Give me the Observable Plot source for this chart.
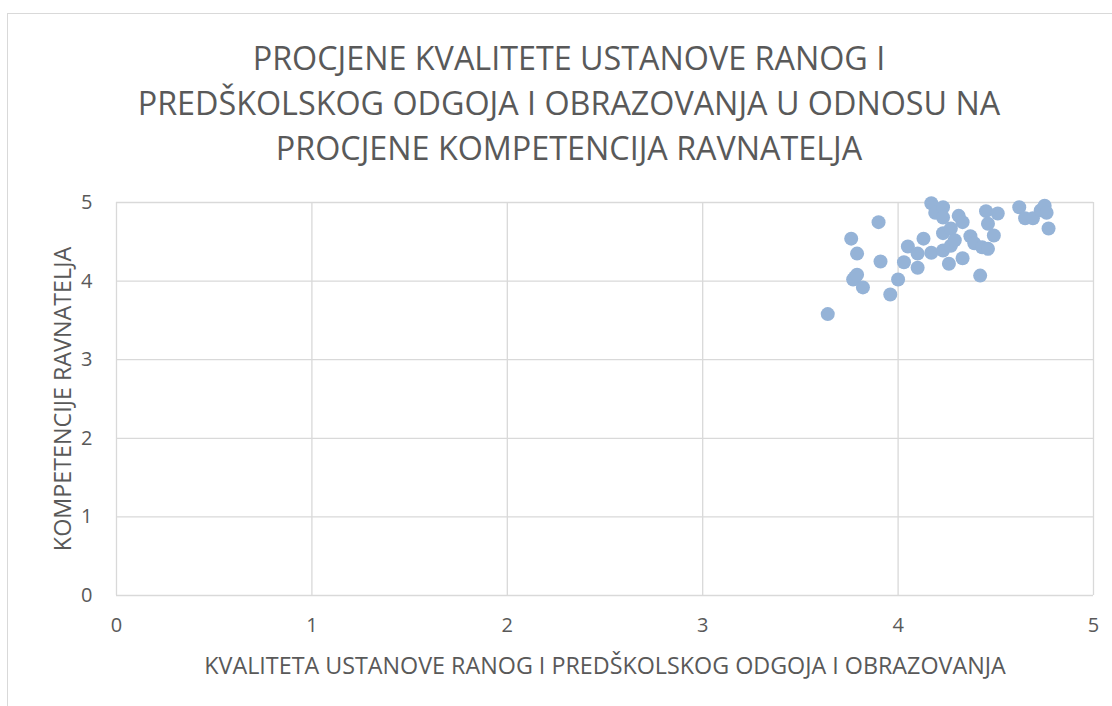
<!DOCTYPE html>
<html>
<head>
<meta charset="utf-8">
<script src="https://cdn.jsdelivr.net/npm/d3@7"></script>
<script src="https://cdn.jsdelivr.net/npm/@observablehq/plot@0.6"></script>
<style>
  html, body { margin: 0; padding: 0; background: #fff; }
  #wrap { position: relative; width: 1112px; height: 706px; overflow: hidden; font-family: "Open Sans", sans-serif; }
  #frame { position: absolute; left: 7px; top: 13px; width: 1110px; height: 720px; border: 1px solid #d9d9d9; box-sizing: border-box; }
  #title { position: absolute; left: 0; width: 1138px; top: 35px; text-align: center; color: #595959; font-size: 32.3px; line-height: 45px; font-weight: 400; }
  #chart { position: absolute; left: 0; top: 0; }
</style>
</head>
<body>
<div id="wrap">
  <div id="frame"></div>
  <div id="title">PROCJENE KVALITETE USTANOVE RANOG I<br>PREDŠKOLSKOG ODGOJA I OBRAZOVANJA U ODNOSU NA<br>PROCJENE KOMPETENCIJA RAVNATELJA</div>
  <div id="chart"></div>
</div>
<script>
// Estimated values
const kvaliteta = [3.64, 3.76, 3.79, 3.78, 3.77, 3.79, 3.82, 3.90, 3.91, 3.96,
  4.00, 4.03, 4.05, 4.10, 4.10, 4.13, 4.17, 4.17, 4.19, 4.23,
  4.23, 4.23, 4.23, 4.27, 4.27, 4.26, 4.29, 4.31, 4.33, 4.33,
  4.37, 4.39, 4.42, 4.43, 4.46, 4.45, 4.46, 4.49, 4.51, 4.62,
  4.65, 4.69, 4.73, 4.75, 4.76, 4.77];
const kompetencije = [3.58, 4.54, 4.35, 4.05, 4.02, 4.08, 3.92, 4.75, 4.25, 3.83,
  4.02, 4.24, 4.44, 4.17, 4.35, 4.54, 4.36, 4.99, 4.87, 4.94,
  4.81, 4.61, 4.39, 4.67, 4.45, 4.22, 4.52, 4.83, 4.75, 4.29,
  4.57, 4.48, 4.07, 4.43, 4.41, 4.89, 4.73, 4.58, 4.86, 4.94,
  4.80, 4.80, 4.90, 4.96, 4.87, 4.67];
const ticks = [0, 1, 2, 3, 4, 5];
const xTitle = "KVALITETA USTANOVE RANOG I PREDŠKOLSKOG ODGOJA I OBRAZOVANJA";
const yTitle = "KOMPETENCIJE RAVNATELJA";

const data = kvaliteta.map((x, i) => ({x, y: kompetencije[i]}));

const chart = Plot.plot({
  width: 1112,
  height: 706,
  marginLeft: 116,
  marginRight: 19,
  marginTop: 202,
  marginBottom: 111,
  style: {fontFamily: "Open Sans, sans-serif", color: "#595959", background: "transparent", overflow: "visible"},
  x: {domain: [0, 5]},
  y: {domain: [0, 5]},
  marks: [
    Plot.gridX(ticks, {stroke: "#d9d9d9", strokeOpacity: 1, strokeWidth: 1.3}),
    Plot.gridY(ticks, {stroke: "#d9d9d9", strokeOpacity: 1, strokeWidth: 1.3}),
    Plot.axisX(ticks, {tickSize: 0, tickPadding: 22, fontSize: 20, fill: "#595959", tickFormat: d => d,
      label: xTitle, labelAnchor: "center", labelArrow: "none", labelOffset: 78}),
    Plot.axisY(ticks, {tickSize: 0, tickPadding: 24, fontSize: 20, fill: "#595959", tickFormat: d => d,
      label: yTitle, labelAnchor: "center", labelArrow: "none", labelOffset: 62}),
    Plot.dot(data, {x: "x", y: "y", r: 7, fill: "#95b3d7", stroke: "none", fillOpacity: 1})
  ]
});
document.getElementById("chart").appendChild(chart);
chart.querySelectorAll("g[aria-label='x-axis label'] text, g[aria-label='y-axis label'] text").forEach(t => {
  t.setAttribute("font-size", 23.3);
});
</script>
</body>
</html>
